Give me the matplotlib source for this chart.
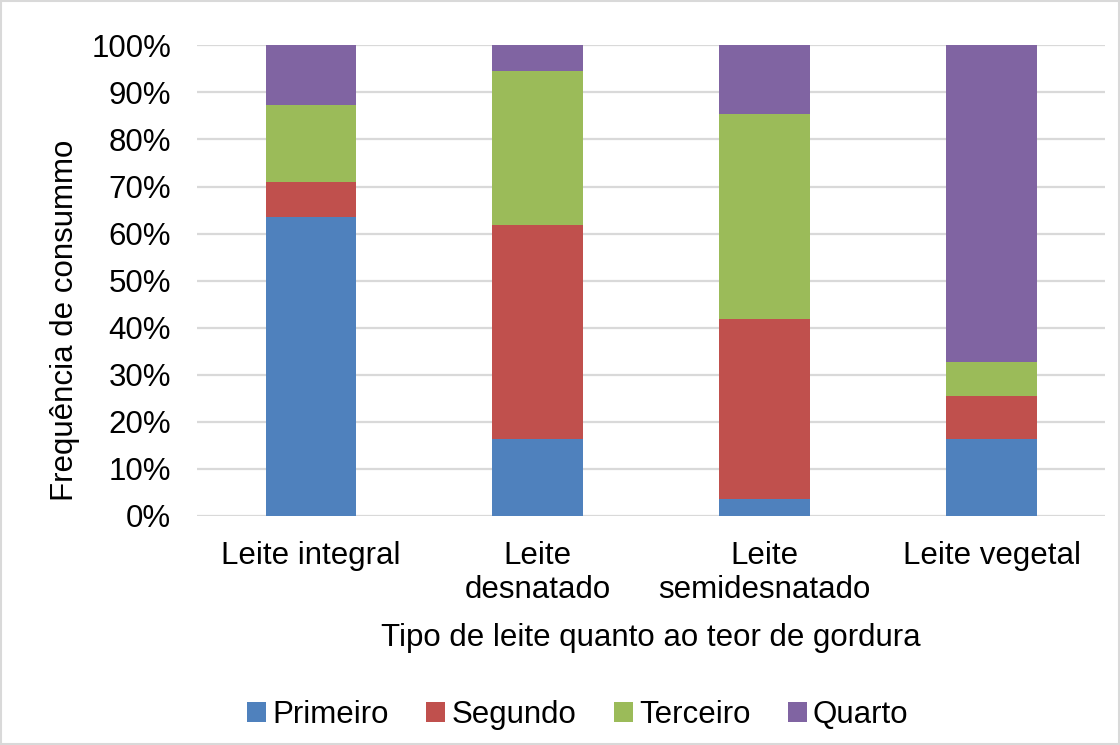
import matplotlib.pyplot as plt
from matplotlib.patches import Patch, Rectangle
import numpy as np

plt.rcParams['font.family'] = ['Liberation Sans', 'DejaVu Sans']

categories = ["Leite integral", "Leite\ndesnatado", "Leite\nsemidesnatado", "Leite vegetal"]
series_names = ["Primeiro", "Segundo", "Terceiro", "Quarto"]

# percentage of answers per rank (n = 55)
primeiro = [63.6, 16.4, 3.6, 16.4]
segundo = [7.3, 45.5, 38.2, 9.1]
terceiro = [16.4, 32.7, 43.6, 7.3]
quarto = [12.7, 5.4, 14.6, 67.2]

colors = ["#4F81BD", "#C0504D", "#9BBB59", "#8064A2"]

fig = plt.figure(figsize=(11.2, 7.45), dpi=100)
ax = fig.add_axes([0.1763, 0.3074, 0.9866 - 0.1763, 0.9392 - 0.3074])

x = np.arange(len(categories))
bottom = np.zeros(len(categories))
for vals, col, name in zip([primeiro, segundo, terceiro, quarto], colors, series_names):
    ax.bar(x, vals, width=0.4, bottom=bottom, color=col, label=name, zorder=3)
    bottom += np.array(vals)

ax.set_xlim(-0.5, 3.5)
ax.set_ylim(0, 100)
ax.set_yticks(np.arange(0, 101, 10))
ax.set_yticklabels([f"{v}%" for v in range(0, 101, 10)])
ax.set_xticks(x)
ax.set_xticklabels(categories, linespacing=1.17)
ax.tick_params(axis='both', length=0, labelsize=22.5)
ax.tick_params(axis='y', pad=19)
ax.tick_params(axis='x', pad=18)
ax.grid(axis='y', color='#d9d9d9', linewidth=1.6, zorder=0)
for s in ax.spines.values():
    s.set_visible(False)

fig.text(65 / 1120, 1 - 320 / 745, "Frequência de consummo", rotation=90,
         ha='center', va='center', fontsize=22.5)
fig.text(651 / 1120, 1 - 638 / 745, "Tipo de leite quanto ao teor de gordura",
         ha='center', va='center', fontsize=22.5)

handles = [Patch(facecolor=c, label=n) for c, n in zip(colors, series_names)]
fig.legend(handles=handles, loc='center', bbox_to_anchor=(0.516, 0.040), ncol=4,
           frameon=False, fontsize=22.5, handlelength=0.6, handleheight=0.6,
           handletextpad=0.2, columnspacing=1.2)

fig.patches.append(Rectangle((0.001, 0.001), 0.998, 0.998, transform=fig.transFigure,
                             fill=False, edgecolor='#d9d9d9', linewidth=1.5))

fig.savefig("out.png", dpi=100)
